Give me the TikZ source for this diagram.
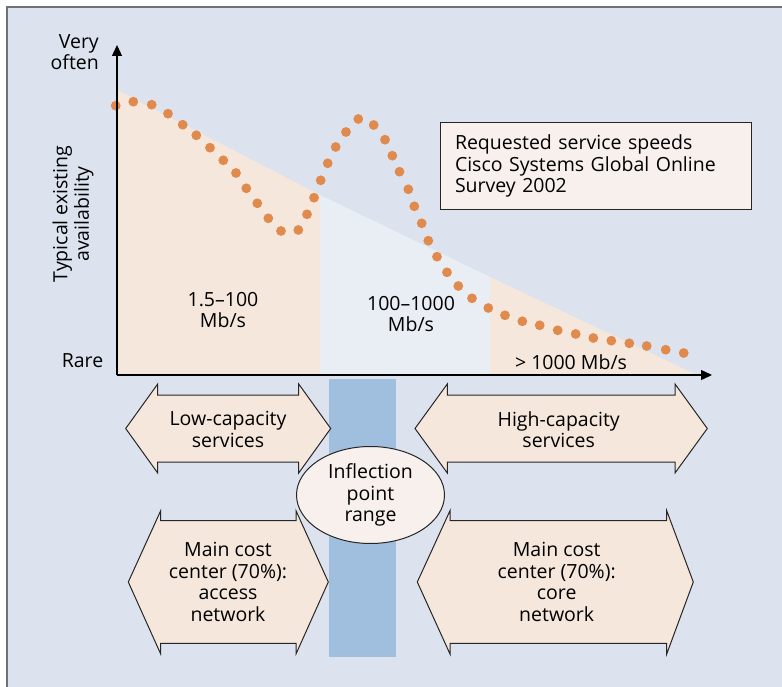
\documentclass[tikz,border=0pt]{standalone}
\usepackage{fontspec}
\setmainfont{Open Sans}
\usetikzlibrary{arrows.meta,shapes.geometric}
\definecolor{bgc}{HTML}{DCE3EE}
\definecolor{framec}{HTML}{6E7276}
\definecolor{peach}{HTML}{F5E7DC}
\definecolor{midc}{HTML}{E9EDF4}
\definecolor{boxc}{HTML}{F7F0EC}
\definecolor{bandc}{HTML}{A0BEDD}
\definecolor{dotc}{HTML}{E08A4E}
\tikzset{
  lbl/.style={font=\fontsize{19.5}{21.5}\selectfont, align=center, inner sep=0pt, text=black},
  dblarrow/.style={fill=peach, draw=black!85, line width=1pt, line join=miter},
  dotmark/.style={fill=dotc, draw=none},
  axis/.style={line width=1.3pt, -{Triangle[length=11pt,width=10pt]}}
}
\begin{document}
\begin{tikzpicture}[x=1pt,y=-1pt]
\useasboundingbox (0,0) rectangle (782,687);
\fill[white] (0,0) rectangle (782,687);
\fill[bgc] (7,7) rectangle (782,687);
\draw[framec, line width=2pt] (7,687) -- (7,7) -- (782,7);
% shaded regions
\fill[peach] (117,90) -- (320,195) -- (320,375) -- (117,375) -- cycle;
\fill[midc] (320,195) -- (490,277) -- (490,375) -- (320,375) -- cycle;
\fill[peach] (490,277) -- (697,375) -- (490,375) -- cycle;
% band
\fill[bandc] (329,379) rectangle (396,657);
% dots
\foreach \px/\py in {115.7/105.7,133.3/101.7,151.7/104.7,168/113.7,182.7/124.7,196.3/135.3,210/147.7,223.3/160.3,236/173,246.3/188.3,257.3/203.3,268.3/218.3,281/231,298.3/230,307/214.3,314/197.7,320.7/180.3,327.7/163.3,335.7/147,346/132,358.3/119,373.7/125,385/139.7,392.3/155.7,399.5/171.7,408.3/189.3,414.3/206.3,421.7/223.3,428.3/240.7,437/256.7,447/272.3,458.3/286,472/298.3,488.3/308,505/315.3,522.3/321.3,539.7/325.3,557.7/330.3,575.7/334,593.3/338,611.3/340.7,629.3/343.3,646.7/346,665.7/349.7,683.7/353}
  \fill[dotmark] (\px,\py) circle (4.9);
% axes
\coordinate (origin) at (117,375);
\coordinate (ytip) at (117,45);
\coordinate (xtip) at (712,375);
\draw[axis] (origin) -- (ytip);
\draw[axis] (origin) -- (xtip);
% axis labels
\node[lbl, align=right, anchor=east] (veryoften) at (99,52) {Very\\often};
\node[lbl, rotate=90] (avail) at (73,214) {Typical existing\\availability};
\node[lbl] (rare) at (82.5,361) {Rare};
\node[lbl] (r1) at (223,310) {1.5–100\\Mb/s};
\node[lbl] (r2) at (411,314) {100–1000\\Mb/s};
\node[lbl] (r3) at (571,362) {> 1000 Mb/s};
% legend box
\node[lbl, align=left, draw=black!85, fill=boxc, line width=1pt, minimum width=299pt, minimum height=87pt, text width=282pt, inner xsep=14.5pt, anchor=north west] (legend) at (440,122.3) {Requested service speeds\\Cisco Systems Global Online\\Survey 2002};
% double arrows
\draw[dblarrow] (125.7,428.5) -- (157.7,384) -- (157.7,395) -- (298.7,395) -- (298.7,384) -- (330.7,428.5) -- (298.7,473) -- (298.7,462) -- (157.7,462) -- (157.7,473) -- cycle;
\node[lbl] (lowcap) at (228,429.5) {Low-capacity\\services};
\draw[dblarrow] (415,428.5) -- (447.3,384) -- (447.3,395) -- (675,395) -- (675,384) -- (707.3,428.5) -- (675,473) -- (675,462) -- (447.3,462) -- (447.3,473) -- cycle;
\node[lbl] (highcap) at (558.7,429.5) {High-capacity\\services};
\draw[dblarrow] (128.3,582) -- (160.7,510.7) -- (160.7,520.7) -- (296,520.7) -- (296,510.7) -- (328.3,582) -- (296,654) -- (296,643.3) -- (160.7,643.3) -- (160.7,654) -- cycle;
\node[lbl] (costl) at (228,582) {Main cost\\center (70\%):\\access\\network};
\draw[dblarrow] (417.3,582) -- (450,510.7) -- (450,520.7) -- (666.7,520.7) -- (666.7,510.7) -- (693.3,582) -- (666.7,654) -- (666.7,643.3) -- (450,643.3) -- (450,654) -- cycle;
\node[lbl] (costr) at (556.7,582) {Main cost\\center (70\%):\\core\\network};
% ellipse
\node[lbl, ellipse, draw=black!85, fill=boxc, line width=1pt, minimum width=148pt, minimum height=97pt, inner sep=0pt] (infl) at (370.5,495) {Inflection\\point\\range};
\end{tikzpicture}
\end{document}
